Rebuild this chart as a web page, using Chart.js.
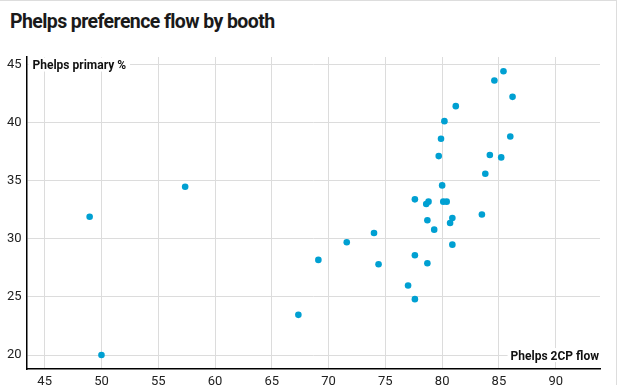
<!DOCTYPE html>
<html>
<head>
<meta charset="utf-8">
<script src="https://cdn.jsdelivr.net/npm/chart.js@4"></script>
<style>
  html, body { margin: 0; padding: 0; background: #fff; }
  .wrap { position: relative; width: 622px; height: 385px; }
  .frame { position: absolute; left: 0; top: 0; width: 617px; height: 385px;
           border-top: 1px solid #ddd; border-right: 1px solid #ddd; box-sizing: border-box; }
  h1 { position: absolute; left: 10px; top: 12px; margin: 0; font: bold 19.5px/20px Roboto, sans-serif;
       letter-spacing: -0.6px; color: #1a1a1a; }
  canvas { position: absolute; left: 0; top: 0; }
</style>
</head>
<body>
<div class="wrap">
  <div class="frame"></div>
  <h1>Phelps preference flow by booth</h1>
  <canvas id="myChart" width="622" height="385"></canvas>
</div>
<script>
(() => {
  'use strict'

  // Phelps 2CP flow (x) and Phelps primary % (y), one entry per booth
  const flow = [
    48.96, 57.37, 50.0, 67.34, 85.4, 84.6, 86.2, 81.2, 80.2, 86.0,
    79.9, 79.7, 84.2, 85.2, 83.8, 80.0, 77.6, 78.6, 78.8, 80.1,
    80.4, 78.7, 80.9, 83.5, 80.7, 79.3, 74.0, 71.6, 80.9, 69.1,
    77.6, 74.4, 78.7, 77.0, 77.6
  ]
  const primary = [
    31.9, 34.48, 20.0, 23.46, 44.42, 43.63, 42.22, 41.42, 40.13, 38.81,
    38.61, 37.12, 37.21, 37.01, 35.6, 34.6, 33.4, 33.0, 33.2, 33.2,
    33.2, 31.6, 31.8, 32.1, 31.37, 30.79, 30.5, 29.71, 29.5, 28.19,
    28.59, 27.82, 27.9, 25.98, 24.81
  ]
  const xLabel = 'Phelps 2CP flow'
  const yLabel = 'Phelps primary %'

  const points = flow.map((x, i) => ({ x: x, y: primary[i] }))

  // axis names sit inside the plot on a white patch
  const axisNames = {
    id: 'axisNames',
    afterDatasetsDraw (chart) {
      const { ctx, chartArea } = chart
      ctx.save()
      ctx.font = 'bold 12px Roboto, sans-serif'
      ctx.textBaseline = 'middle'
      const yScale = chart.scales.y
      const top = yScale.getPixelForValue(45)
      let w = ctx.measureText(yLabel).width
      ctx.fillStyle = '#fff'
      ctx.fillRect(chartArea.left + 2, top - 7, w + 8, 14)
      ctx.fillStyle = '#111'
      ctx.textAlign = 'left'
      ctx.fillText(yLabel, chartArea.left + 6, top + 1)

      const bottom = yScale.getPixelForValue(20)
      w = ctx.measureText(xLabel).width
      ctx.fillStyle = '#fff'
      ctx.fillRect(chartArea.right - w - 4, bottom - 7, w + 4, 14)
      ctx.fillStyle = '#111'
      ctx.textAlign = 'right'
      ctx.fillText(xLabel, chartArea.right - 1, bottom + 2)
      ctx.restore()
    }
  }

  const ctx = document.getElementById('myChart')
  const myChart = new Chart(ctx, {
    type: 'scatter',
    data: {
      datasets: [{
        data: points,
        backgroundColor: '#00a0d2',
        borderColor: '#00a0d2',
        borderWidth: 0,
        pointRadius: 3.3,
        pointHoverRadius: 4
      }]
    },
    options: {
      responsive: false,
      animation: false,
      devicePixelRatio: 1,
      layout: {
        padding: { top: 57, right: 22, left: 0, bottom: 0 }
      },
      scales: {
        x: {
          min: 43.4,
          max: 93.9,
          afterFit (scale) { scale.height = 16 },
          border: { color: '#000', width: 1.5 },
          grid: { color: '#dcdcdc', drawTicks: false },
          ticks: {
            stepSize: 5,
            includeBounds: false,
            padding: 5,
            color: '#222',
            font: { family: 'Roboto', size: 13 }
          }
        },
        y: {
          min: 18.8,
          max: 45.65,
          afterFit (scale) { scale.width = 26.5 },
          border: { color: '#000', width: 1.5 },
          grid: { color: '#dcdcdc', drawTicks: false },
          ticks: {
            stepSize: 5,
            includeBounds: false,
            padding: 5,
            color: '#222',
            font: { family: 'Roboto', size: 13 }
          }
        }
      },
      plugins: {
        legend: { display: false },
        tooltip: { enabled: false }
      }
    },
    plugins: [axisNames]
  })
})()
</script>
</body>
</html>
